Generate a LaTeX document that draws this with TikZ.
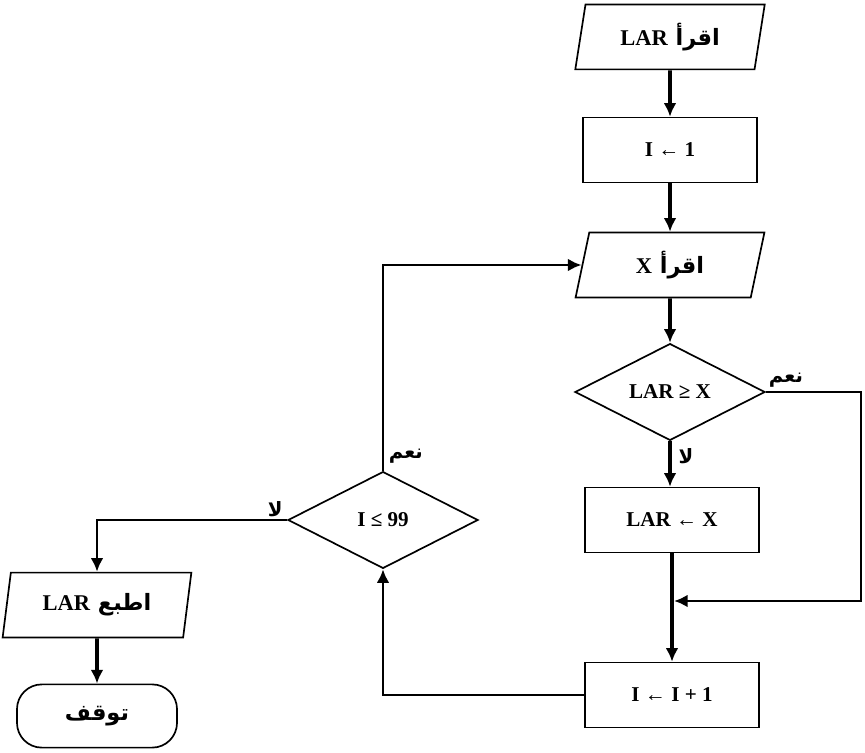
\documentclass[tikz,border=0pt]{standalone}
\usepackage{fontspec}
\setmainfont{Liberation Serif}
\newfontfamily\arabicfont[Script=Arabic]{DejaVu Sans}
\TeXXeTstate=1
\usetikzlibrary{shapes.geometric,arrows.meta,positioning}
\newcommand{\artext}[1]{{\arabicfont\bfseries\beginR #1\endR}}
\newcommand{\latword}[1]{\beginL{\rmfamily\bfseries #1}\endL}

\tikzset{
  shapeline/.style={draw, line width=1.2pt},
  io/.style={shapeline, trapezium, trapezium left angle=80, trapezium right angle=100,
    trapezium stretches=true, minimum width=4.75cm, minimum height=1.62cm,
    font=\fontsize{16}{19}\selectfont\bfseries},
  proc/.style={shapeline, rectangle, minimum width=4.35cm, minimum height=1.62cm,
    font=\fontsize{15}{18}\selectfont\bfseries},
  test/.style={shapeline, diamond, inner sep=0pt, minimum width=4.75cm, minimum height=2.42cm,
    font=\fontsize{15}{18}\selectfont\bfseries},
  term/.style={shapeline, rectangle, rounded corners=0.62cm, minimum width=4cm,
    minimum height=1.58cm, font=\fontsize{16}{19}\selectfont},
  flow/.style={line width=2.6pt, -{Latex[length=3.4mm,width=3.2mm]}},
  back/.style={line width=2pt, -{Latex[length=3.4mm,width=3.2mm]}},
  lbl/.style={inner sep=1pt, font=\fontsize{14}{17}\selectfont}
}

\begin{document}
\begin{tikzpicture}[x=0.025cm, y=-0.025cm]
  \useasboundingbox (0,0) rectangle (865,753);

  % right column
  \node[io]   (readLAR) at (670,37)  {\artext{اقرأ \latword{LAR}}};
  \node[proc] (initI)   at (670,150) {I ← 1};
  \node[io]   (readX)   at (670,265) {\artext{اقرأ \latword{X}}};
  \node[test] (testLAR) at (670,392) {LAR ≥ X};
  \node[proc] (setLAR)  at (672,520) {LAR ← X};
  \node[proc] (incI)    at (672,695) {I ← I + 1};

  % left part
  \node[test] (testI)    at (383,520) {I ≤ 99};
  \node[io]   (printLAR) at (97,605)  {\artext{اطبع \latword{LAR}}};
  \node[term] (stop)     at (97,716)  {\artext{توقف}};

  \coordinate (rim)  at (861,601);
  \coordinate (join) at (674,601);

  % main flow
  \draw[flow] (readLAR) -- (initI);
  \draw[flow] (initI) -- (readX);
  \draw[flow] (readX) -- (testLAR);
  \draw[flow] (testLAR.south) -- (testLAR.south |- setLAR.north);
  \draw[flow] (setLAR) -- (incI);
  \draw[back] (testLAR.east) -| (rim) -- (join);
  \draw[back] (incI.west) -| (testI.south);
  \draw[back] (testI.north) |- (readX.west);
  \draw[back] (testI.west) -| (printLAR.north);
  \draw[flow] (printLAR) -- (stop);

  % labels
  \node[lbl, above right=2pt and 1pt of testLAR.east] (yesA) {\artext{نعم}};
  \node[lbl, below right=4pt and 5pt of testLAR.south] (noA) {\artext{لا}};
  \node[lbl, above right=4pt and 3pt of testI.north] (yesB) {\artext{نعم}};
  \node[lbl, above left=1pt and 2pt of testI.west] (noB) {\artext{لا}};
\end{tikzpicture}
\end{document}
